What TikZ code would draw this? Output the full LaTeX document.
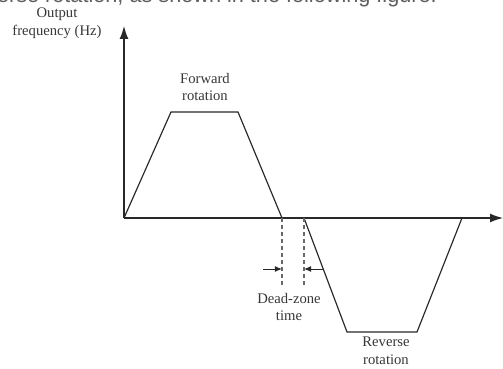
\documentclass[tikz,border=0pt]{standalone}
\usepackage{fontspec}
\setmainfont{Liberation Serif}
\newfontfamily\capfont{Liberation Sans}
\usepackage{tikz}
\usetikzlibrary{arrows.meta,positioning}
\definecolor{ink}{RGB}{40,40,40}
\definecolor{txt}{RGB}{55,55,55}
\tikzset{
  axis/.style={-{Latex[length=11pt,width=7.5pt]}, line width=1pt, draw=ink},
  curve/.style={line width=1pt, draw=ink, line join=miter},
  guide/.style={dashed, dash pattern=on 3.5pt off 2.5pt, line width=1pt, draw=ink!70},
  dz/.style={-{Latex[length=6pt,width=5pt]}, line width=0.8pt, draw=ink},
  lbl/.style={font=\fontsize{12.5}{15}\selectfont, text=txt, align=center, inner sep=0pt},
}
\begin{document}
\begin{tikzpicture}[x=0.03cm,y=-0.03cm]
\useasboundingbox (0,0) rectangle (503,369);
\clip (0,0) rectangle (503,369);
% cut-off caption line of the page
\node[font=\capfont\fontsize{18.5}{20}\selectfont, text=txt!80, anchor=base east, inner sep=0pt] (cap) at (437,2.5) {reverse rotation, as shown in the following figure.};
% axes
\coordinate (o) at (124,218);
\coordinate (ytip) at (124,26);
\coordinate (xtip) at (503,218);
\draw[axis] (o) -- (ytip);
\draw[axis] (o) -- (xtip);
\node[lbl] (ylab) at (57,23) {Output\\frequency (Hz)};
% forward rotation
\coordinate (f1) at (171,112);
\coordinate (f2) at (238,112);
\coordinate (z1) at (282,218);
\draw[curve] (o) -- (f1) -- (f2) -- (z1);
\node[lbl] (fwd) at (205,87) {Forward\\rotation};
% reverse rotation
\coordinate (z2) at (304,218);
\coordinate (r1) at (347,332);
\coordinate (r2) at (417,332);
\coordinate (z3) at (462,218);
\draw[curve] (z2) -- (r1) -- (r2) -- (z3);
\node[lbl] (rev) at (386,351) {Reverse\\rotation};
% dead zone
\coordinate (d1) at (282,287);
\coordinate (d2) at (304,287);
\draw[guide] (z1) -- (d1);
\draw[guide] (z2) -- (d2);
\coordinate (a1) at (263,269);
\coordinate (b1) at (282,269);
\coordinate (a2) at (323,269);
\coordinate (b2) at (304,269);
\draw[dz] (a1) -- (b1);
\draw[dz] (a2) -- (b2);
\node[lbl] (dead) at (289,307) {Dead-zone\\time};
\end{tikzpicture}
\end{document}
